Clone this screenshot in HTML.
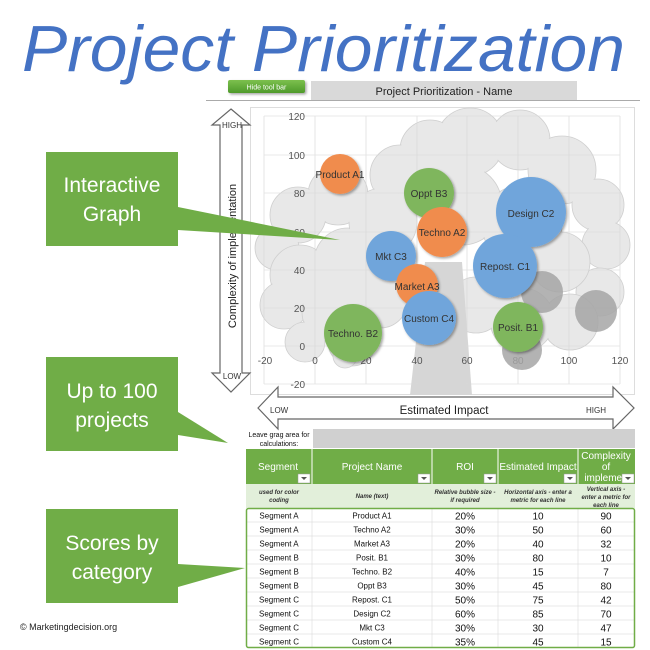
<!DOCTYPE html>
<html><head><meta charset="utf-8"><style>
html,body{margin:0;padding:0;background:#fff;}
svg{display:block;font-family:"Liberation Sans",sans-serif;}
</style></head><body>
<svg width="650" height="650" viewBox="0 0 650 650" xmlns="http://www.w3.org/2000/svg">
<defs>
<filter id="sh" x="-20%" y="-20%" width="150%" height="150%"><feDropShadow dx="1.5" dy="1.5" stdDeviation="1.2" flood-color="#000" flood-opacity="0.35"/></filter>
<linearGradient id="btn" x1="0" y1="0" x2="0" y2="1"><stop offset="0" stop-color="#7cc04e"/><stop offset="1" stop-color="#4e9a2a"/></linearGradient>
</defs>
<text x="22" y="71" font-size="65" font-style="italic" fill="#4472c4" textLength="603" lengthAdjust="spacingAndGlyphs">Project Prioritization</text>
<rect x="228" y="80" width="77" height="13" rx="2" fill="url(#btn)" filter="url(#sh)"/>
<text x="266.5" y="89.5" font-size="7" fill="#fff" text-anchor="middle">Hide tool bar</text>
<rect x="311" y="81" width="266" height="19" fill="#d9d9d9"/>
<text x="444" y="95" font-size="11" fill="#222" text-anchor="middle">Project Prioritization - Name</text>
<line x1="206" y1="100.5" x2="640" y2="100.5" stroke="#aaa" stroke-width="1"/>
<rect x="250.5" y="107.5" width="384" height="287" fill="#fff" stroke="#ddd"/>
<g fill="#e8e8e8" stroke="#cfcfcf" stroke-width="0.8">
<circle cx="470" cy="142" r="34"/><circle cx="520" cy="140" r="30"/><circle cx="430" cy="150" r="30"/><circle cx="562" cy="170" r="34"/><circle cx="400" cy="175" r="30"/><circle cx="598" cy="205" r="26"/><circle cx="606" cy="245" r="24"/><circle cx="338" cy="195" r="30"/><circle cx="298" cy="215" r="28"/><circle cx="277" cy="248" r="22"/><circle cx="300" cy="275" r="30"/><circle cx="348" cy="262" r="34"/><circle cx="284" cy="305" r="24"/><circle cx="332" cy="312" r="30"/><circle cx="380" cy="300" r="28"/><circle cx="462" cy="205" r="40"/><circle cx="522" cy="225" r="40"/><circle cx="600" cy="292" r="24"/><circle cx="570" cy="322" r="28"/><circle cx="522" cy="320" r="32"/><circle cx="476" cy="305" r="28"/><circle cx="352" cy="342" r="24"/><circle cx="305" cy="342" r="20"/><circle cx="383" cy="222" r="34"/><circle cx="560" cy="262" r="30"/><circle cx="345" cy="356" r="12"/>
</g>
<g fill="#e8e8e8"><circle cx="470" cy="142" r="33"/><circle cx="520" cy="140" r="29"/><circle cx="430" cy="150" r="29"/><circle cx="562" cy="170" r="33"/><circle cx="400" cy="175" r="29"/><circle cx="598" cy="205" r="25"/><circle cx="338" cy="195" r="29"/><circle cx="298" cy="215" r="27"/><circle cx="300" cy="275" r="29"/><circle cx="348" cy="262" r="33"/><circle cx="332" cy="312" r="29"/><circle cx="380" cy="300" r="27"/><circle cx="462" cy="205" r="39"/><circle cx="522" cy="225" r="39"/><circle cx="570" cy="322" r="27"/><circle cx="522" cy="320" r="31"/><circle cx="476" cy="305" r="27"/><circle cx="383" cy="222" r="33"/><circle cx="560" cy="262" r="29"/></g>
<polygon points="425,262 462,262 472,395 410,395" fill="#d6d6d6"/>
<g stroke="#d9d9d9" stroke-width="0.8" opacity="0.8">
<line x1="264" y1="116" x2="264" y2="384"/><line x1="315" y1="116" x2="315" y2="384"/><line x1="366" y1="116" x2="366" y2="384"/><line x1="417" y1="116" x2="417" y2="384"/><line x1="467" y1="116" x2="467" y2="384"/><line x1="518" y1="116" x2="518" y2="384"/><line x1="569" y1="116" x2="569" y2="384"/><line x1="620" y1="116" x2="620" y2="384"/>
<line x1="264" y1="116" x2="620" y2="116"/><line x1="264" y1="155" x2="620" y2="155"/><line x1="264" y1="193" x2="620" y2="193"/><line x1="264" y1="232" x2="620" y2="232"/><line x1="264" y1="270" x2="620" y2="270"/><line x1="264" y1="308" x2="620" y2="308"/><line x1="264" y1="346" x2="620" y2="346"/><line x1="264" y1="384" x2="620" y2="384"/>
</g>
<g font-size="10" fill="#555" text-anchor="end">
<text x="305" y="120">120</text><text x="305" y="159">100</text><text x="305" y="197">80</text><text x="305" y="236">60</text><text x="305" y="274">40</text><text x="305" y="312">20</text><text x="305" y="350">0</text><text x="305" y="388">-20</text>
</g>
<g font-size="10" fill="#555" text-anchor="middle">
<text x="265" y="364">-20</text><text x="315" y="364">0</text><text x="366" y="364">20</text><text x="417" y="364">40</text><text x="467" y="364">60</text><text x="518" y="364">80</text><text x="569" y="364">100</text><text x="620" y="364">120</text>
</g>
<g fill="#a6a6a6" opacity="0.85"><circle cx="542" cy="292" r="21"/><circle cx="596" cy="311" r="21"/><circle cx="522" cy="350" r="20"/></g>
<g filter="url(#sh)">
<circle cx="340" cy="174" r="20" fill="#f08c4e"/>
<circle cx="429" cy="193" r="25" fill="#7fb65d"/>
<circle cx="442" cy="232" r="25" fill="#f08c4e"/>
<circle cx="531" cy="212" r="35" fill="#6fa5db"/>
<circle cx="505" cy="266" r="32" fill="#6fa5db"/>
<circle cx="391" cy="256" r="25" fill="#6fa5db"/>
<circle cx="417" cy="285" r="21" fill="#f08c4e"/>
<circle cx="429" cy="318" r="27" fill="#6fa5db"/>
<circle cx="518" cy="327" r="25" fill="#7fb65d"/>
<circle cx="353" cy="333" r="29" fill="#7fb65d"/>
</g>
<g font-size="10" fill="#333" text-anchor="middle">
<text x="340" y="178">Product A1</text><text x="429" y="197">Oppt B3</text><text x="442" y="236">Techno A2</text><text x="531" y="217">Design C2</text><text x="505" y="270">Repost. C1</text><text x="391" y="260">Mkt C3</text><text x="417" y="290">Market A3</text><text x="429" y="322">Custom C4</text><text x="518" y="331">Posit. B1</text><text x="353" y="337">Techno. B2</text>
</g>
<polygon points="231,109 250,125 242,125 242,373 250,373 231,392 212,373 220,373 220,125 212,125" fill="#fff" stroke="#666" stroke-width="1.2"/>
<text x="232" y="128" font-size="8" fill="#333" text-anchor="middle">HIGH</text>
<text x="232" y="379" font-size="8" fill="#333" text-anchor="middle">LOW</text>
<text transform="translate(236,256) rotate(-90)" font-size="11" fill="#222" text-anchor="middle">Complexity of implementation</text>
<polygon points="258,408 278,387 278,397 613,397 613,387 634,408 613,429 613,419 278,419 278,429" fill="#fff" stroke="#666" stroke-width="1.2"/>
<text x="270" y="413" font-size="8" fill="#333">LOW</text>
<text x="606" y="413" font-size="8" fill="#333" text-anchor="end">HIGH</text>
<text x="444" y="414" font-size="11.5" fill="#222" text-anchor="middle">Estimated Impact</text>
<g fill="#70ad47">
<rect x="46" y="152" width="132" height="94"/><polygon points="178,207 340,240 178,230"/>
<rect x="46" y="357" width="132" height="94"/><polygon points="178,412 228,443 178,435"/>
<rect x="46" y="509" width="132" height="94"/><polygon points="178,564 245,568 178,587"/>
</g>
<g font-size="21" fill="#fff" text-anchor="middle">
<text x="112" y="192">Interactive</text><text x="112" y="221">Graph</text>
<text x="112" y="398">Up to 100</text><text x="112" y="427">projects</text>
<text x="112" y="550">Scores by</text><text x="112" y="579">category</text>
</g>
<text x="20" y="630" font-size="9" fill="#222">© Marketingdecision.org</text>
<rect x="313" y="429" width="322" height="19" fill="#d0d0d0"/>
<text x="279" y="437" font-size="7" fill="#111" text-anchor="middle">Leave grag area for</text>
<text x="279" y="446" font-size="7" fill="#111" text-anchor="middle">calculations:</text>
<rect x="246" y="449" width="389" height="35" fill="#70ad47"/>
<g stroke="#fff" stroke-width="1"><line x1="312" y1="449" x2="312" y2="648"/><line x1="432" y1="449" x2="432" y2="648"/><line x1="498" y1="449" x2="498" y2="648"/><line x1="578" y1="449" x2="578" y2="648"/></g>
<g font-size="10" fill="#fff" text-anchor="middle">
<text x="278" y="470">Segment</text><text x="372" y="470">Project Name</text><text x="465" y="470">ROI</text><text x="538" y="470">Estimated Impact</text>
<text x="606" y="459">Complexity</text><text x="606" y="470">of</text><text x="606" y="481">implemen</text>
</g>
<g fill="#fff" stroke="#999" stroke-width="0.5"><rect x="298" y="474" width="12" height="9"/><rect x="418" y="474" width="12" height="9"/><rect x="484" y="474" width="12" height="9"/><rect x="564" y="474" width="12" height="9"/><rect x="622" y="474" width="12" height="9"/></g>
<g fill="#555"><polygon points="301,477 307,477 304,480"/><polygon points="421,477 427,477 424,480"/><polygon points="487,477 493,477 490,480"/><polygon points="567,477 573,477 570,480"/><polygon points="625,477 631,477 628,480"/></g>
<rect x="246" y="484" width="389" height="24" fill="#e2efda"/>
<g font-size="6" font-style="italic" font-weight="bold" fill="#333" text-anchor="middle">
<text x="279" y="494">used for color</text><text x="279" y="502">coding</text>
<text x="372" y="498">Name (text)</text>
<text x="465" y="494">Relative bubble size -</text><text x="465" y="502">if required</text>
<text x="538" y="494">Horizontal axis - enter a</text><text x="538" y="502">metric for each line</text>
<text x="606" y="491">Vertical axis -</text><text x="606" y="499">enter a metric for</text><text x="606" y="507">each line</text>
</g>
<g stroke="#e0e0e0" stroke-width="0.7">
<line x1="246" y1="522" x2="635" y2="522"/><line x1="246" y1="536" x2="635" y2="536"/><line x1="246" y1="550" x2="635" y2="550"/><line x1="246" y1="564" x2="635" y2="564"/><line x1="246" y1="578" x2="635" y2="578"/><line x1="246" y1="592" x2="635" y2="592"/><line x1="246" y1="606" x2="635" y2="606"/><line x1="246" y1="620" x2="635" y2="620"/><line x1="246" y1="634" x2="635" y2="634"/>
<line x1="312" y1="508" x2="312" y2="648"/><line x1="432" y1="508" x2="432" y2="648"/><line x1="498" y1="508" x2="498" y2="648"/><line x1="578" y1="508" x2="578" y2="648"/>
</g>
<rect x="246.5" y="508.5" width="388" height="139" rx="2" fill="none" stroke="#70ad47" stroke-width="1.5"/>
<g font-size="8" fill="#111" text-anchor="middle">
<text x="279" y="518.5">Segment A</text><text x="279" y="532.5">Segment A</text><text x="279" y="546.5">Segment A</text><text x="279" y="560.5">Segment B</text><text x="279" y="574.5">Segment B</text><text x="279" y="588.5">Segment B</text><text x="279" y="602.5">Segment C</text><text x="279" y="616.5">Segment C</text><text x="279" y="630.5">Segment C</text><text x="279" y="644.5">Segment C</text>
<text x="372" y="518.5">Product A1</text><text x="372" y="532.5">Techno A2</text><text x="372" y="546.5">Market A3</text><text x="372" y="560.5">Posit. B1</text><text x="372" y="574.5">Techno. B2</text><text x="372" y="588.5">Oppt B3</text><text x="372" y="602.5">Repost. C1</text><text x="372" y="616.5">Design C2</text><text x="372" y="630.5">Mkt C3</text><text x="372" y="644.5">Custom C4</text>
</g>
<g font-size="10" fill="#111" text-anchor="middle">
<text x="465" y="519.5">20%</text><text x="465" y="533.5">30%</text><text x="465" y="547.5">20%</text><text x="465" y="561.5">30%</text><text x="465" y="575.5">40%</text><text x="465" y="589.5">30%</text><text x="465" y="603.5">50%</text><text x="465" y="617.5">60%</text><text x="465" y="631.5">30%</text><text x="465" y="645.5">35%</text>
<text x="538" y="519.5">10</text><text x="538" y="533.5">50</text><text x="538" y="547.5">40</text><text x="538" y="561.5">80</text><text x="538" y="575.5">15</text><text x="538" y="589.5">45</text><text x="538" y="603.5">75</text><text x="538" y="617.5">85</text><text x="538" y="631.5">30</text><text x="538" y="645.5">45</text>
<text x="606" y="519.5">90</text><text x="606" y="533.5">60</text><text x="606" y="547.5">32</text><text x="606" y="561.5">10</text><text x="606" y="575.5">7</text><text x="606" y="589.5">80</text><text x="606" y="603.5">42</text><text x="606" y="617.5">70</text><text x="606" y="631.5">47</text><text x="606" y="645.5">15</text>
</g>
</svg>
</body></html>
